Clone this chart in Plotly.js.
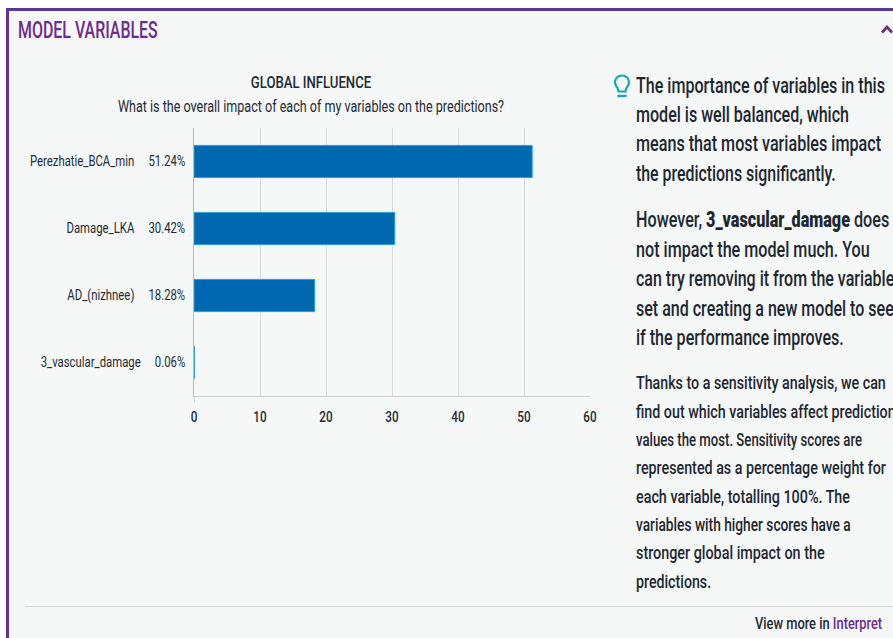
<!DOCTYPE html>
<html><head><meta charset="utf-8">
<script src="https://cdn.plot.ly/plotly-3.0.1.min.js"></script>
<style>
html,body{margin:0;padding:0;width:893px;height:638px;overflow:hidden;background:#fff}
#panel{position:absolute;left:6px;top:8px;width:900px;height:640px;box-sizing:border-box;background:#f6f7f7;border-left:3px solid #5c3696;border-top:3px solid #5c3696}
#chart{position:absolute;left:0;top:0;width:893px;height:638px}
.t{position:absolute;white-space:nowrap;font-family:Roboto,sans-serif;font-weight:500;color:#1d2730;transform-origin:0 50%;line-height:1}
.t b{font-weight:900}
.abs{position:absolute}
</style></head><body>
<div id="panel"></div>
<div id="chart"></div>
<div id="text"></div>
<svg class="abs" style="left:612px;top:72px" width="20" height="28" viewBox="0 0 20 28"><path d="M10 3.500c-4.200 0-7 3-7 6.700 0 3 1.800 4.600 2.800 6.500.5 1 .7 2 .7 2.800h7c0-.8.2-1.800.7-2.800 1-1.900 2.800-3.500 2.800-6.500 0-3.700-2.800-6.700-7-6.700z" fill="none" stroke="#18a8b4" stroke-width="2.200"/><path d="M6.500 24h7" stroke="#18a8b4" stroke-width="2.600" stroke-linecap="round"/></svg>
<svg class="abs" style="left:881px;top:23px" width="12" height="12" viewBox="0 0 12 12"><path d="M1 9.500L6 4l5 5.500" fill="none" stroke="#6b2c8f" stroke-width="2.800"/></svg>
<div class="abs" style="left:25px;top:606px;width:868px;height:1px;background:#d3d6da"></div>
<script>
const categories = ["Perezhatie_BCA_min", "Damage_LKA", "AD_(nizhnee)", "3_vascular_damage"];
const influence = [51.24, 30.42, 18.28, 0.06];
const influenceLabels = ["51.24%", "30.42%", "18.28%", "0.06%"];
const xTicks = [0, 10, 20, 30, 40, 50, 60];
const chartTitle = "GLOBAL INFLUENCE";
const chartSubtitle = "What is the overall impact of each of my variables on the predictions?";
const sideText = [
 [636,86,22,249,"The importance of variables in this"],
 [636,115,22,213,"model is well balanced, which"],
 [636,144,22,245,"means that most variables impact"],
 [636,174,22,200,"the predictions significantly."],
 [636,220,22,253,"However, <b>3_vascular_damage</b> does"],
 [636,250,22,234,"not impact the model much. You"],
 [636,279,22,258,"can try removing it from the variable"],
 [636,309,22,258,"set and creating a new model to see"],
 [636,338,22,208,"if the performance improves."],
 [636,383,18,250,"Thanks to a sensitivity analysis, we can"],
 [636,412,18,260,"find out which variables affect prediction"],
 [636,440,18,226,"values the most. Sensitivity scores are"],
 [636,468,18,250,"represented as a percentage weight for"],
 [636,497,18,214,"each variable, totalling 100%. The"],
 [636,525,18,215,"variables with higher scores have a"],
 [636,553,18,189,"stronger global impact on the"],
 [636,582,18,75,"predictions."],
 [755,624,16.5,127,"View more in <span style='color:#6b2c8f'>Interpret</span>"],
 [18,30,23,140,"<span style='color:#6b2c8f'>MODEL VARIABLES</span>"]
];
const host = document.getElementById("text");
sideText.forEach(([x,y,s,w,h])=>{
  const d=document.createElement("div");d.className="t";d.innerHTML=h;
  d.style.left=x+"px";d.style.top=(y-s/2)+"px";d.style.fontSize=s+"px";
  host.appendChild(d);
  d.style.transform="scaleX("+(w/d.offsetWidth)+")";
});
const NB="\u00a0";
const face="Roboto,'Liberation Sans',sans-serif";
function squeeze(sel,k){
  document.querySelectorAll(sel).forEach(n=>{
    const len=n.getComputedTextLength();
    n.setAttribute("textLength",len*k);n.setAttribute("lengthAdjust","spacingAndGlyphs");
  });
}
Plotly.newPlot("chart",[{
  type:"bar",orientation:"h",x:influence,y:categories,width:0.48,
  marker:{color:"#0068b0",line:{color:"#2f9fcf",width:1}},hoverinfo:"skip"
}],{
  width:893,height:638,
  paper_bgcolor:"rgba(0,0,0,0)",plot_bgcolor:"rgba(0,0,0,0)",showlegend:false,
  margin:{l:194,r:303,t:128,b:242,pad:0},
  font:{family:face,color:"#222b33"},
  title:{text:chartTitle,font:{family:face,size:16,weight:500,color:"#222b33"},
    x:311/893,xref:"container",xanchor:"center",y:1-82/638,yref:"container",yanchor:"middle"},
  annotations:[{text:chartSubtitle,xref:"paper",yref:"paper",x:(311-194)/396,y:(396-106)/268,xanchor:"center",yanchor:"middle",showarrow:false,font:{family:face,size:16,color:"#222b33"}}],
  shapes:[{type:"line",xref:"x",yref:"paper",x0:0,x1:0,y0:0,y1:-6/268,line:{color:"#b9b9b9",width:1}}],
  xaxis:{range:[0,60],tickvals:xTicks,ticktext:xTicks.map(String),showgrid:true,gridcolor:"#dcdcdc",gridwidth:1,
    zeroline:false,showline:true,linecolor:"#d0d0d0",linewidth:1,ticks:"",tickfont:{family:face,size:15,weight:500,color:"#222b33"},ticklabelstandoff:7},
  yaxis:{type:"category",categories:categories,categoryorder:"array",categoryarray:categories,autorange:"reversed",
    tickmode:"array",tickvals:categories,ticktext:categories.map((c,i)=>c+NB.repeat(5)+influenceLabels[i]),
    showgrid:false,zeroline:false,showline:true,linecolor:"#b9b9b9",linewidth:1,ticks:"",tickfont:{family:face,size:14,color:"#222b33"},ticklabelstandoff:5}
},{staticPlot:true,displayModeBar:false}).then(()=>{
  squeeze(".gtitle",.82);
  squeeze(".annotation-text",.785);
  squeeze(".ytick text",.81);
  squeeze(".xtick text",.78);
});
</script>
</body></html>
